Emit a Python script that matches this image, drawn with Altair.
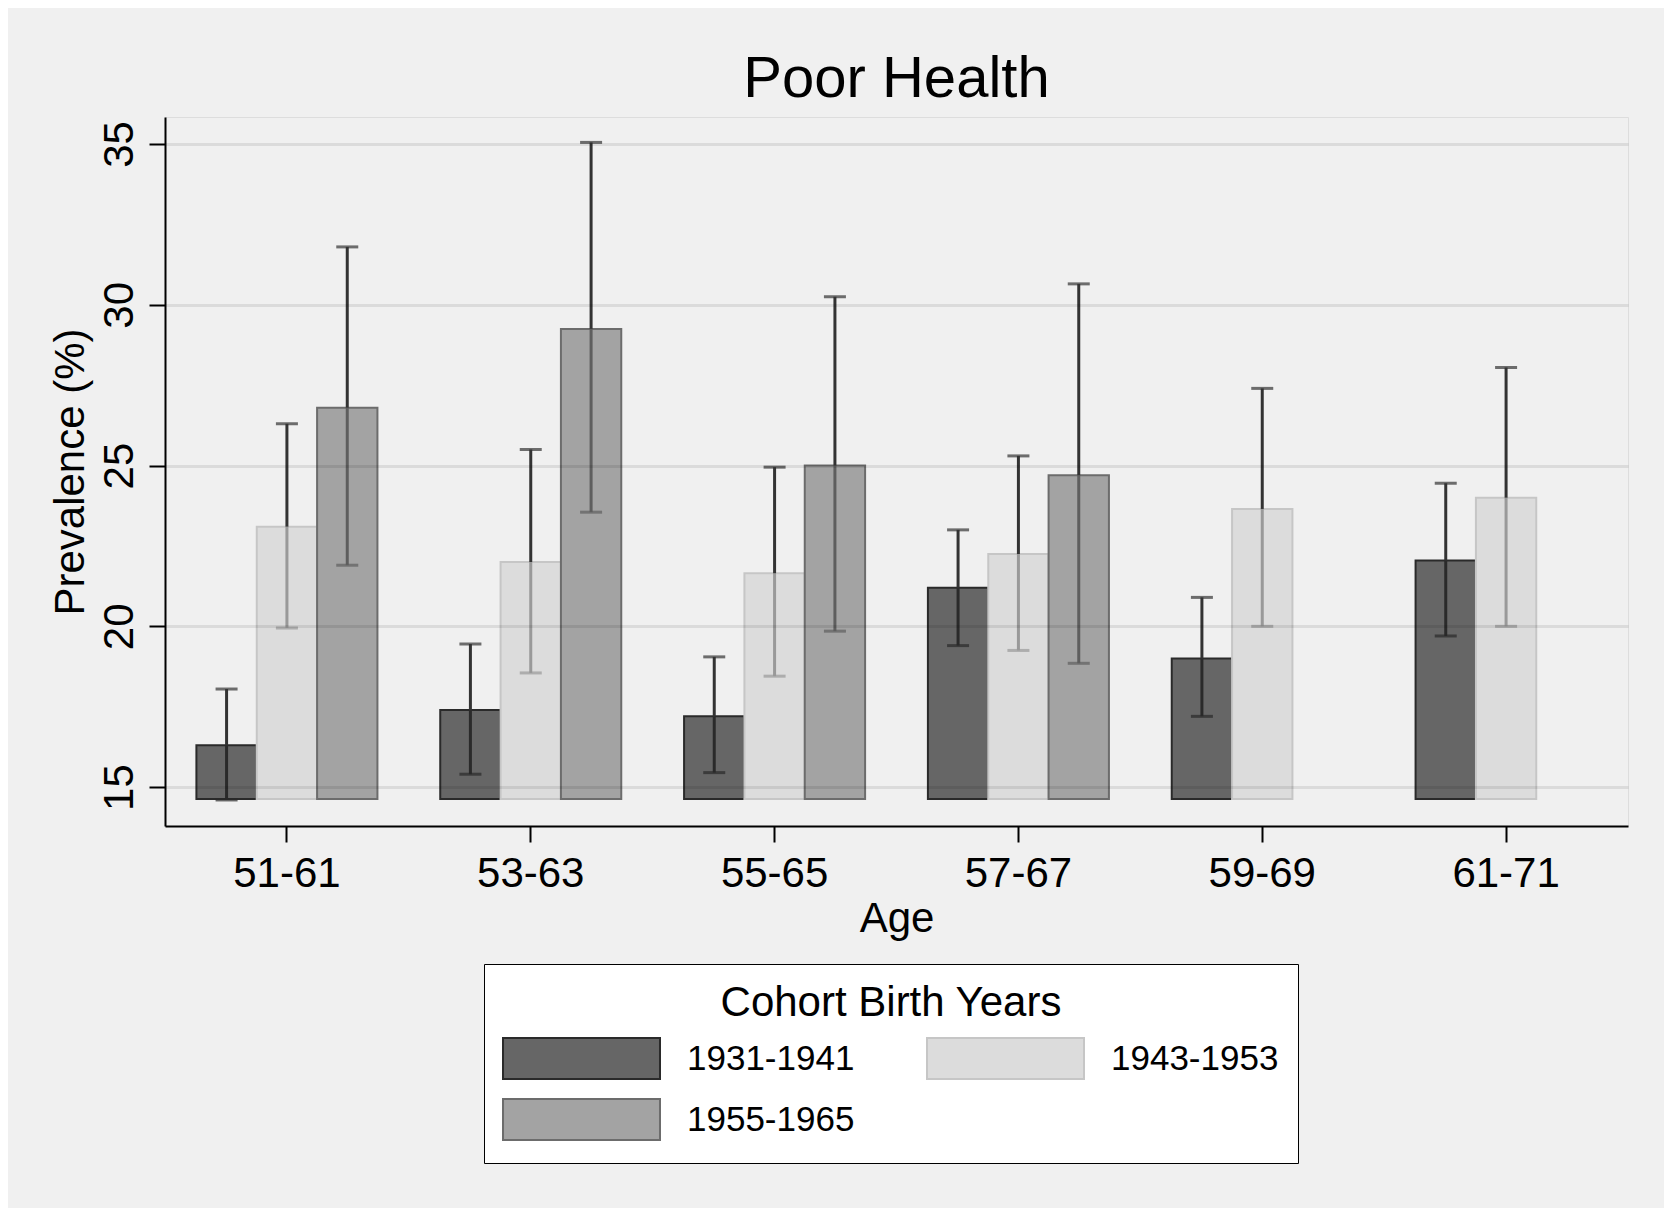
import altair as alt
import pandas as pd

FONT = "Liberation Sans"

ages = ["51-61", "53-63", "55-65", "57-67", "59-69", "61-71"]
cohorts = ["1931-1941", "1943-1953", "1955-1965"]

c1931_val = [16.3, 17.4, 17.2, 21.2, 19.0, 22.05]
c1931_lo = [14.6, 15.4, 15.45, 19.4, 17.2, 19.7]
c1931_hi = [18.05, 19.45, 19.05, 23.0, 20.9, 24.45]

c1943_val = [23.1, 22.0, 21.65, 22.25, 23.65, 24.0]
c1943_lo = [19.95, 18.55, 18.45, 19.25, 20.0, 20.0]
c1943_hi = [26.3, 25.5, 24.95, 25.3, 27.4, 28.05]

c1955_ages = ["51-61", "53-63", "55-65", "57-67"]
c1955_val = [26.8, 29.25, 25.0, 24.7]
c1955_lo = [21.9, 23.55, 19.85, 18.85]
c1955_hi = [31.8, 35.05, 30.25, 30.65]

bar_base = 14.63
y_ticks = [15, 20, 25, 30, 35]

rows = []
for a, v, lo, hi in zip(ages, c1931_val, c1931_lo, c1931_hi):
    rows.append({"age": a, "cohort": cohorts[0], "value": v, "lo": lo, "hi": hi})
for a, v, lo, hi in zip(ages, c1943_val, c1943_lo, c1943_hi):
    rows.append({"age": a, "cohort": cohorts[1], "value": v, "lo": lo, "hi": hi})
for a, v, lo, hi in zip(c1955_ages, c1955_val, c1955_lo, c1955_hi):
    rows.append({"age": a, "cohort": cohorts[2], "value": v, "lo": lo, "hi": hi})
df = pd.DataFrame(rows)

W, H = 1463, 709

x_enc = alt.X(
    "age:N",
    sort=ages,
    scale=alt.Scale(domain=ages, paddingInner=0.2576, paddingOuter=0.1288),
    axis=alt.Axis(
        title="Age", labelAngle=0, labelFontSize=42, labelFont=FONT, labelColor="black",
        labelBaseline="alphabetic", labelPadding=44,
        tickSize=16, tickWidth=2, tickColor="black",
        domainColor="black", domainWidth=2, grid=False,
        titleFontSize=42, titleFont=FONT, titleFontWeight="normal", titleColor="black",
        titleBaseline="alphabetic", titleAlign="center", titleX=W / 2, titleY=105,
    ),
)
xo_enc = alt.XOffset("cohort:N", sort=cohorts,
                     scale=alt.Scale(domain=cohorts, paddingInner=0, paddingOuter=0))

y_scale = alt.Scale(domain=[13.79, 35.84], nice=False, zero=False)
y_axis = alt.Axis(
    values=y_ticks, title="Prevalence (%)", grid=True, gridColor="black", gridOpacity=0.085,
    gridWidth=3, zindex=1,
    labelAngle=270, labelAlign="center", labelBaseline="alphabetic", labelPadding=17,
    labelFontSize=42, labelFont=FONT, labelColor="black",
    tickSize=16, tickWidth=2, tickColor="black", domainColor="black", domainWidth=2,
    titleFontSize=42, titleFont=FONT, titleFontWeight="normal", titleColor="black",
    titleAngle=270, titleAlign="center", titleBaseline="alphabetic", titleX=-82, titleY=H / 2,
)

fill_scale = alt.Scale(domain=cohorts, range=["#666666", "#dcdcdc", "#a3a3a3"])
stroke_scale = alt.Scale(domain=cohorts, range=["#2a2a2a", "#c6c6c6", "#6c6c6c"])
inner_scale = alt.Scale(domain=cohorts, range=["#2a2a2a", "#999999", "#5e5e5e"])

legend = alt.Legend(
    title="Cohort Birth Years", orient="none", legendX=319, legendY=847,
    columns=2, direction="horizontal",
    symbolType="M-3.829,-1L3.829,-1L3.829,1L-3.829,1Z", symbolSize=1681,
    symbolOffset=57, symbolStrokeWidth=2, labelOffset=84, labelLimit=400,
    labelFontSize=35, labelFont=FONT, labelColor="black",
    titleFontSize=42, titleFont=FONT, titleFontWeight="normal", titleColor="black",
    titleAnchor="middle", titlePadding=12, titleLimit=900, rowPadding=12, columnPadding=68,
    padding=19, strokeColor="black", fillColor="white",
)

base = alt.Chart(df)

bars = base.mark_bar(strokeWidth=2).encode(
    x=x_enc, xOffset=xo_enc,
    y=alt.Y("value:Q", scale=y_scale, axis=y_axis),
    y2=alt.datum(bar_base),
    fill=alt.Fill("cohort:N", scale=fill_scale, legend=legend),
    stroke=alt.Stroke("cohort:N", scale=stroke_scale, legend=legend),
)

rule_top = base.mark_rule(strokeWidth=3, color="#333333").encode(
    x=x_enc, xOffset=xo_enc, y=alt.Y("value:Q", scale=y_scale), y2="hi:Q",
)
rule_in = base.mark_rule(strokeWidth=3).encode(
    x=x_enc, xOffset=xo_enc, y=alt.Y("lo:Q", scale=y_scale), y2="value:Q",
    color=alt.Color("cohort:N", scale=inner_scale, legend=None),
)
cap_top = base.mark_tick(size=22, thickness=3, color="#333333").encode(
    x=x_enc, xOffset=xo_enc, y=alt.Y("hi:Q", scale=y_scale),
)
cap_lo = base.mark_tick(size=22, thickness=3).encode(
    x=x_enc, xOffset=xo_enc, y=alt.Y("lo:Q", scale=y_scale),
    color=alt.Color("cohort:N", scale=inner_scale, legend=None),
)

chart = (
    alt.layer(bars, rule_in, rule_top, cap_lo, cap_top)
    .properties(
        width=W, height=H,
        title=alt.TitleParams("Poor Health", fontSize=58, font=FONT, fontWeight="normal",
                              color="black", anchor="middle", baseline="alphabetic",
                              offset=20, dy=58),
        autosize=alt.AutoSizeParams(type="none"),
        padding={"left": 157, "top": 109, "right": 36, "bottom": 382},
        background="#f0f0f0",
    )
    .configure_view(fill="white", strokeWidth=0)
    .configure(font=FONT)
)

chart.save("out.html", embed_options={"renderer": "svg", "actions": False})
